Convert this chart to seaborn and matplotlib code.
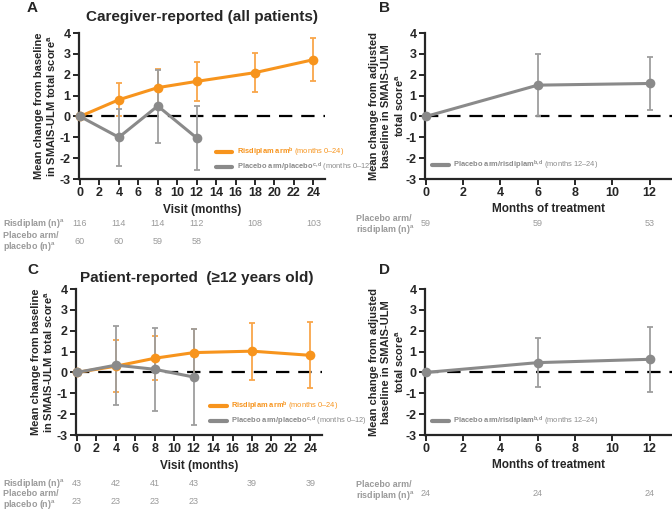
import numpy as np
import matplotlib
matplotlib.use("Agg")
import matplotlib.pyplot as plt
import matplotlib.transforms as mtransforms
import seaborn as sns
import pandas as pd

# ---- data ----
visits = [0, 4, 8, 12, 18, 24]
pbo_visits = [0, 4, 8, 12]
tx_months = [0, 6, 12]

# A: caregiver-reported
ris_a = [0, 0.8, 1.38, 1.68, 2.1, 2.72]
ris_a_err = [0, 0.8, 0.88, 0.93, 0.95, 1.02]
pbo_a = [0, -1.0, 0.5, -1.03]
pbo_a_err = [0, 1.38, 1.75, 1.55]
ris_a_n = [116, 114, 114, 112, 108, 103]
pbo_a_n = [60, 60, 59, 58]

# B: placebo arm switched to risdiplam (caregiver)
sw_b = [0, 1.5, 1.58]
sw_b_err = [0, 1.5, 1.25]
sw_b_n = [59, 59, 53]

# C: patient-reported
ris_c = [0, 0.3, 0.68, 0.95, 1.02, 0.82]
ris_c_err = [0, 1.26, 1.06, 1.15, 1.36, 1.58]
pbo_c = [0, 0.35, 0.15, -0.22]
pbo_c_err = [0, 1.9, 2.0, 2.3]
ris_c_n = [43, 42, 41, 43, 39, 39]
pbo_c_n = [23, 23, 23, 23]

# D: placebo arm switched to risdiplam (patient)
sw_d = [0, 0.47, 0.63]
sw_d_err = [0, 1.17, 1.57]
sw_d_n = [24, 24, 24]

ORANGE = "#F7941D"
ORANGE_EB = "#F9A64A"
GRAY = "#8A8A8A"
GRAY_EB = "#9E9E9E"
NGRAY = "#9A9A9A"

sns.set_style("ticks")
plt.rcParams["font.family"] = ["Liberation Sans", "DejaVu Sans"]
plt.rcParams["axes.unicode_minus"] = False
plt.rcParams["mathtext.fontset"] = "custom"
plt.rcParams["mathtext.rm"] = "Liberation Sans"
plt.rcParams["mathtext.bf"] = "Liberation Sans:bold"
plt.rcParams["mathtext.it"] = "Liberation Sans:italic"

fig = plt.figure(figsize=(6.72, 5.12), dpi=100)
W, H = 672.0, 512.0


def axes_px(left, top, right, bottom):
    return fig.add_axes([left / W, 1 - bottom / H, (right - left) / W, (bottom - top) / H])


def series(ax, x, y, err, color, ecolor):
    ax.errorbar(x[1:], y[1:], yerr=err[1:], fmt="none", ecolor=ecolor,
                elinewidth=1.3, capsize=2.5, capthick=1.3, zorder=2, clip_on=False)
    df = pd.DataFrame({"x": x, "y": y})
    sns.lineplot(data=df, x="x", y="y", ax=ax, color=color, lw=2.2, marker="o",
                 markersize=7, markeredgewidth=0, zorder=3, clip_on=False)


def style(ax, xticks, xlim, xlabel, ylabel, labelpad):
    ax.axhline(0, color="black", lw=1.6, dashes=(6, 4), zorder=1)
    ax.set_ylim(-3, 4)
    ax.set_yticks(range(-3, 5))
    ax.set_xlim(*xlim)
    ax.set_xticks(xticks)
    for lab in ax.get_xticklabels() + ax.get_yticklabels():
        lab.set_fontweight("bold")
    ax.tick_params(labelsize=9, width=1.4, length=4, pad=2)
    for s in ["left", "bottom"]:
        ax.spines[s].set_linewidth(1.6)
    sns.despine(ax=ax)
    ax.set_xlabel(xlabel, fontsize=8.5, fontweight="bold", labelpad=3)
    ax.set_ylabel(ylabel, fontsize=8, fontweight="bold", labelpad=labelpad, linespacing=1.2)


def legend(ax, entries, anchor):
    handles = [plt.Line2D([], [], color=c, lw=3) for c, _ in entries]
    leg = ax.legend(handles, [t for _, t in entries], loc="lower left",
                    bbox_to_anchor=anchor, frameon=False, fontsize=5.4,
                    handlelength=2.2, handletextpad=0.6, labelspacing=0.25,
                    borderpad=0, borderaxespad=0)
    for txt, (c, _) in zip(leg.get_texts(), entries):
        txt.set_color(c)


def nrow(ax, xs, ns, ypix):
    tr = mtransforms.blended_transform_factory(ax.transData, fig.transFigure)
    for x, n in zip(xs, ns):
        ax.text(x, 1 - ypix / H, str(n), transform=tr, ha="center", va="center",
                fontsize=6.5, color=NGRAY, clip_on=False)


def rowlabel(xpix, ypix, text):
    fig.text(xpix / W, 1 - ypix / H, text, ha="left", va="center", fontsize=6.4,
             color=NGRAY, fontweight="bold", linespacing=1.0)


ylab_base = "Mean change from baseline\nin SMAIS-ULM total score$^{\\mathbf{a}}$"
ylab_adj = "Mean change from adjusted\nbaseline in SMAIS-ULM\ntotal score$^{\\mathbf{a}}$"
lab_ris = r"$\mathbf{Risdiplam\ arm}^{\mathbf{b}}$ (months 0–24)"
lab_pbo = r"$\mathbf{Placebo\ arm/placebo}^{\mathbf{c,d}}$ (months 0–12)"
lab_sw = r"$\mathbf{Placebo\ arm/risdiplam}^{\mathbf{b,d}}$ (months 12–24)"

# ---- Panel A ----
axA = axes_px(79, 33, 325, 179)
series(axA, visits, ris_a, ris_a_err, ORANGE, ORANGE_EB)
series(axA, pbo_visits, pbo_a, pbo_a_err, GRAY, GRAY_EB)
style(axA, range(0, 25, 2), (-0.1, 25.2), "Visit (months)", ylab_base, 1)
legend(axA, [(ORANGE, lab_ris), (GRAY, lab_pbo)], (0.555, 0.035))
nrow(axA, visits, ris_a_n, 224)
nrow(axA, pbo_visits, pbo_a_n, 242)
rowlabel(3, 224, "Risdiplam (n)$^{\\mathbf{a}}$")
rowlabel(3, 242, "Placebo arm/\nplacebo (n)$^{\\mathbf{a}}$")

# ---- Panel B ----
axB = axes_px(425, 33, 672, 179)
series(axB, tx_months, sw_b, sw_b_err, GRAY, GRAY_EB)
style(axB, range(0, 13, 2), (-0.05, 13.2), "Months of treatment", ylab_adj, 0)
legend(axB, [(GRAY, lab_sw)], (0.03, 0.05))
nrow(axB, tx_months, sw_b_n, 224)
rowlabel(356, 225, "Placebo arm/\nrisdiplam (n)$^{\\mathbf{a}}$")

# ---- Panel C ----
axC = axes_px(76, 289, 322, 435)
series(axC, visits, ris_c, ris_c_err, ORANGE, ORANGE_EB)
series(axC, pbo_visits, pbo_c, pbo_c_err, GRAY, GRAY_EB)
style(axC, range(0, 25, 2), (-0.1, 25.2), "Visit (months)", ylab_base, 1)
legend(axC, [(ORANGE, lab_ris), (GRAY, lab_pbo)], (0.545, 0.045))
nrow(axC, visits, ris_c_n, 483)
nrow(axC, pbo_visits, pbo_c_n, 501)
rowlabel(3, 483, "Risdiplam (n)$^{\\mathbf{a}}$")
rowlabel(3, 500, "Placebo arm/\nplacebo (n)$^{\\mathbf{a}}$")

# ---- Panel D ----
axD = axes_px(425, 289, 672, 435)
series(axD, tx_months, sw_d, sw_d_err, GRAY, GRAY_EB)
style(axD, range(0, 13, 2), (-0.05, 13.2), "Months of treatment", ylab_adj, 0)
legend(axD, [(GRAY, lab_sw)], (0.03, 0.05))
nrow(axD, tx_months, sw_d_n, 493)
rowlabel(356, 491, "Placebo arm/\nrisdiplam (n)$^{\\mathbf{a}}$")

# titles and panel letters
fig.text(202 / W, 1 - 17 / H, "Caregiver-reported (all patients)", ha="center", va="center",
         fontsize=11, fontweight="bold")
fig.text(197 / W, 1 - 278 / H, "Patient-reported  (≥12 years old)", ha="center", va="center",
         fontsize=11, fontweight="bold")
for lx, ly, t in [(27, 8, "A"), (379, 8, "B"), (27, 270, "C"), (379, 270, "D")]:
    fig.text(lx / W, 1 - ly / H, t, ha="left", va="center", fontsize=11, fontweight="bold")

fig.savefig("out.png", dpi=100)
